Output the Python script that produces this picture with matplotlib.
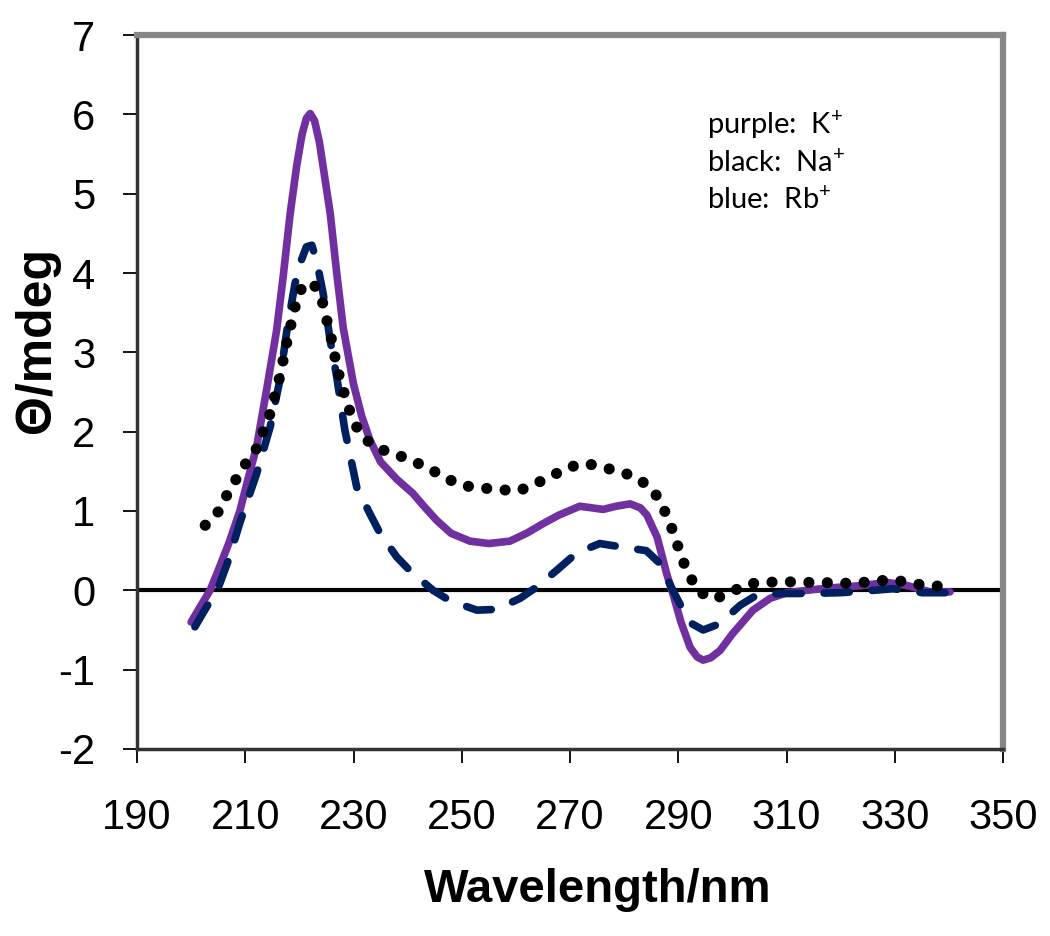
import matplotlib
matplotlib.use("Agg")
import matplotlib.pyplot as plt

# ---- data ----
k_wl = [200, 201.3, 203.5, 205, 207, 209, 210.5, 212.1, 214, 215.8, 217, 218.3, 219.5,
        220.5, 221.3, 222.0, 222.8, 223.7, 224.7, 225.7, 226.9, 228.1, 230, 231.5, 233,
        235, 238, 241, 243, 245.4, 248, 251.5, 255, 258.9, 262, 265, 268, 271.8, 274,
        276.1, 278.5, 281.1, 283, 284.2, 286.1, 287.9, 289, 290.5, 292.2, 293.5, 294.6,
        296, 297.7, 300, 303.8, 307, 310.1, 315, 319.9, 324, 328.6, 332.3, 336.5, 340.2]
k_cd = [-0.40, -0.25, 0.0, 0.25, 0.6, 1.0, 1.4, 1.81, 2.55, 3.28, 3.95, 4.75, 5.35,
        5.75, 5.95, 6.01, 5.92, 5.65, 5.2, 4.75, 4.0, 3.31, 2.6, 2.2, 1.9,
        1.62, 1.4, 1.22, 1.06, 0.88, 0.72, 0.62, 0.59, 0.62, 0.72, 0.84, 0.95, 1.06, 1.04,
        1.02, 1.06, 1.09, 1.04, 0.95, 0.67, 0.2, -0.04, -0.4, -0.72, -0.84, -0.88,
        -0.85, -0.76, -0.55, -0.25, -0.1, -0.03, 0.01, 0.04, 0.06, 0.10, 0.06, -0.02, -0.02]

na_wl = [202.6, 205, 206.6, 208.3, 210.1, 212.1, 214.6, 216.3, 217.7, 219.2, 220.4, 222.5,
         224.1, 224.9, 225.7, 226.4, 227.1, 228, 229, 230.1, 231.9, 234.5, 238, 241, 244.1,
         247.2, 250.2, 253.7, 257.1, 260.4, 263.5, 266.6, 269.6, 273, 276.1, 279.6, 282.6,
         285.4, 287.1, 288.5, 289.6, 290.6, 292, 293.6, 296.6, 299.6, 302.7, 306.2, 309.5,
         312.9, 316.3, 319.7, 323, 326.5, 329.9, 333.2, 336.6, 340]
na_cd = [0.82, 0.99, 1.2, 1.4, 1.6, 1.79, 2.23, 2.67, 3.13, 3.57, 3.81, 3.88,
         3.68, 3.45, 3.24, 3.0, 2.77, 2.55, 2.32, 2.11, 1.92, 1.79, 1.71, 1.63, 1.53,
         1.41, 1.32, 1.29, 1.27, 1.25, 1.34, 1.44, 1.55, 1.60, 1.55, 1.49, 1.41,
         1.26, 1.06, 0.84, 0.63, 0.41, 0.2, -0.01, -0.11, -0.03, 0.08, 0.10, 0.11,
         0.10, 0.10, 0.09, 0.09, 0.12, 0.13, 0.09, 0.05, 0.06]

rb_wl = [200.7, 202.5, 205, 207, 209, 211, 212.1, 214.6, 216.4, 217.7, 219.2, 220.3, 221.3,
         222.3, 223.2, 224.4, 225.7, 226.9, 228.4, 230.6, 233, 234.9, 238, 240.4, 244.7,
         247.8, 252.8, 256.4, 260.8, 263.8, 267.5, 271.2, 275.5, 279.2, 284.1, 286.6, 289,
         290.9, 292.5, 294.6, 297.7, 301.4, 304.5, 308.8, 313.7, 319.9, 326, 329.7, 335.2, 340.2]
rb_cd = [-0.46, -0.25, 0.03, 0.4, 0.85, 1.25, 1.47, 2.06, 2.65, 3.28, 3.87, 4.15, 4.33,
         4.35, 4.15, 3.74, 3.15, 2.69, 2.02, 1.30, 0.97, 0.72, 0.42, 0.25, 0.0,
         -0.13, -0.25, -0.24, -0.10, 0.04, 0.25, 0.47, 0.59, 0.55, 0.50, 0.34, 0.0,
         -0.25, -0.42, -0.50, -0.42, -0.19, -0.06, -0.04, -0.04, -0.03, 0.0, 0.02, -0.03, -0.03]

x_ticks = [190, 210, 230, 250, 270, 290, 310, 330, 350]
y_ticks = [-2, -1, 0, 1, 2, 3, 4, 5, 6, 7]
legend_lines = [("purple:  K", "+"), ("black:  Na", "+"), ("blue:  Rb", "+")]

# ---- figure ----
plt.rcParams['font.family'] = ['Liberation Sans', 'DejaVu Sans']
fig = plt.figure(figsize=(10.5, 9.36), dpi=100)
ax = fig.add_axes([137/1050, 1 - 749/936, (1003-137)/1050, (749-35)/936])

ax.axhline(0, color='black', lw=3.0, zorder=1)

ax.plot(k_wl, k_cd, color='#7030A0', lw=5.5, solid_capstyle='round',
        solid_joinstyle='round', zorder=3)
ax.plot(rb_wl, rb_cd, color='#002060', lw=5.5, linestyle=(0, (3.3, 3.0)),
        dash_capstyle='round', zorder=4)
ax.plot(na_wl, na_cd, color='black', lw=8.0, linestyle=(0, (0.01, 1.65)),
        dash_capstyle='round', zorder=5)

ax.set_xlim(190, 350)
ax.set_ylim(-2, 7)
ax.set_xticks(x_ticks)
ax.set_yticks(y_ticks)
ax.set_xticklabels([str(v) for v in x_ticks])
ax.set_yticklabels([str(v) for v in y_ticks])
ax.tick_params(axis='both', direction='out', length=10, width=1.3, labelsize=30,
               color='black')
ax.tick_params(axis='x', pad=25)
ax.tick_params(axis='y', pad=20)

for side in ['left', 'bottom']:
    ax.spines[side].set_color('#333333')
    ax.spines[side].set_linewidth(2.5)
for side in ['top', 'right']:
    ax.spines[side].set_color('#878787')
    ax.spines[side].set_linewidth(4.5)

fig.text(598/1050, 1 - 890/936, 'Wavelength/nm', ha='center', va='center',
         fontsize=34, fontweight='bold')
fig.text(37/1050, 1 - 340/936, 'Θ/mdeg', ha='center', va='center',
         fontsize=36, fontweight='bold', rotation=90)

base_y = [134, 172, 209]
for (txt, sup), by in zip(legend_lines, base_y):
    fig.text(707/1050, 1 - by/936, txt + r'$^{\mathregular{' + sup + '}}$',
             ha='left', va='baseline', fontsize=21, family=['Lato', 'DejaVu Sans'])

fig.savefig('out.png', dpi=100)
